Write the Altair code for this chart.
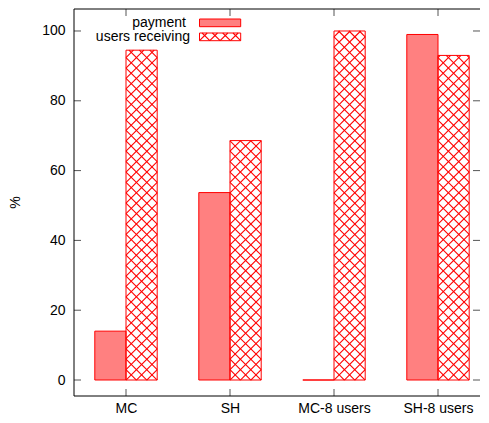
import json
import math
import altair as alt
import pandas as pd

# ---- data ----
categories = ["MC", "SH", "MC-8 users", "SH-8 users"]
payment = [14.0, 53.7, 0.0, 99.0]
users_receiving = [94.5, 68.6, 100.0, 93.0]
series_names = ["payment", "users receiving"]
y_ticks = [0, 20, 40, 60, 80, 100]

# ---- layout / style ----
W, H = 406, 387
SX_TARGET = 104.0
X_DOMAIN = [-0.5, -0.5 + W / SX_TARGET]
Y_DOMAIN = [-4.58, 106.3]
BAR_W = 0.3
SX = W / (X_DOMAIN[1] - X_DOMAIN[0])
SY = H / (Y_DOMAIN[1] - Y_DOMAIN[0])
RED = "#ff0000"
PINK = "#ff8080"
TICK = "#555555"
FONT = "Liberation Sans"
FS = 14
TICK_LEN = 7
HATCH_PERIOD = BAR_W * SX / 3


def px_to_x(px):
    return X_DOMAIN[0] + px / SX


def py_to_y(py):
    return Y_DOMAIN[1] - py / SY


def hatch(w, h, period):
    """45-degree crosshatch segments inside a w x h pixel box (y up)."""
    segs = []
    k0 = math.floor(-h / period) - 1
    k1 = math.ceil((w + h) / period) + 1
    for k in range(k0, k1 + 1):
        c = k * period
        a, b = max(0.0, c), min(w, h + c)
        if b - a > 1e-6:
            segs.append((a, a - c, b, b - c))
        a, b = max(0.0, c - h), min(w, c)
        if b - a > 1e-6:
            segs.append((a, c - a, b, c - b))
    return segs


pay_df = pd.DataFrame({
    "x0": [i - BAR_W for i in range(len(categories))],
    "x1": [float(i) for i in range(len(categories))],
    "y0": [0.0] * len(categories),
    "y1": payment,
})
usr_df = pd.DataFrame({
    "x0": [float(i) for i in range(len(categories))],
    "x1": [i + BAR_W for i in range(len(categories))],
    "y0": [0.0] * len(categories),
    "y1": users_receiving,
})

hrows = []
for i, v in enumerate(users_receiving):
    for (a, b, c, d) in hatch(BAR_W * SX, v * SY, HATCH_PERIOD):
        hrows.append({"x0": i + a / SX, "y0": b / SY, "x1": i + c / SX, "y1": d / SY})

# legend (pixel positions inside plot area, converted through the scales)
leg_text_px = [(112, 13.5), (116, 28.0)]
leg_box_px = [(125.5, 10.0, 166.7, 17.7), (125.5, 24.0, 166.7, 31.7)]
leg_text_df = pd.DataFrame({
    "label": series_names,
    "x": [px_to_x(p[0]) for p in leg_text_px],
    "y": [py_to_y(p[1]) for p in leg_text_px],
})
lb_pay = leg_box_px[0]
lb_usr = leg_box_px[1]
leg_pay_df = pd.DataFrame({"x0": [px_to_x(lb_pay[0])], "x1": [px_to_x(lb_pay[2])],
                           "y0": [py_to_y(lb_pay[3])], "y1": [py_to_y(lb_pay[1])]})
leg_usr_df = pd.DataFrame({"x0": [px_to_x(lb_usr[0])], "x1": [px_to_x(lb_usr[2])],
                           "y0": [py_to_y(lb_usr[3])], "y1": [py_to_y(lb_usr[1])]})
bw, bh = lb_usr[2] - lb_usr[0], lb_usr[3] - lb_usr[1]
for (a, b, c, d) in hatch(bw, bh, bw / 4):
    hrows.append({"x0": px_to_x(lb_usr[0] + a), "y0": py_to_y(lb_usr[3] - b),
                  "x1": px_to_x(lb_usr[0] + c), "y1": py_to_y(lb_usr[3] - d)})
hatch_df = pd.DataFrame(hrows)

# inward frame ticks
trows = []
for t in y_ticks:
    trows.append({"x0": X_DOMAIN[0], "x1": X_DOMAIN[0] + TICK_LEN / SX, "y0": t, "y1": t})
    trows.append({"x0": X_DOMAIN[1] - TICK_LEN / SX, "x1": X_DOMAIN[1], "y0": t, "y1": t})
for i in range(len(categories)):
    trows.append({"x0": i, "x1": i, "y0": Y_DOMAIN[0], "y1": Y_DOMAIN[0] + TICK_LEN / SY})
    trows.append({"x0": i, "x1": i, "y0": Y_DOMAIN[1] - TICK_LEN / SY, "y1": Y_DOMAIN[1]})
tick_df = pd.DataFrame(trows)

# frame: left, top, bottom (right edge lies beyond the picture in the reference)
frame_df = pd.DataFrame([
    {"x0": X_DOMAIN[0], "x1": X_DOMAIN[0], "y0": Y_DOMAIN[0], "y1": Y_DOMAIN[1]},
    {"x0": X_DOMAIN[0], "x1": X_DOMAIN[1], "y0": Y_DOMAIN[1], "y1": Y_DOMAIN[1]},
    {"x0": X_DOMAIN[0], "x1": X_DOMAIN[1], "y0": Y_DOMAIN[0], "y1": Y_DOMAIN[0]},
])

xscale = alt.Scale(domain=X_DOMAIN, nice=False, zero=False)
yscale = alt.Scale(domain=Y_DOMAIN, nice=False, zero=False)

label_expr = json.dumps(categories) + "[round(datum.value)]"
x_axis = alt.Axis(values=list(range(len(categories))), labelExpr=label_expr, title=None,
                  grid=False, domain=False, ticks=True, tickSize=0, labelPadding=5,
                  labelFontSize=FS, labelColor="#000", labelFont=FONT)
y_axis = alt.Axis(values=y_ticks, title="%", grid=False, domain=False, ticks=True,
                  tickSize=0, labelPadding=9, labelFontSize=FS, labelColor="#000",
                  labelFont=FONT, titleX=-59, titleY=193, titleAngle=270,
                  titleFontSize=FS, titleFontWeight="normal", titleFont=FONT,
                  titleColor="#000", titleAlign="center", titleBaseline="middle")


def enc(chart, xf="x0:Q", yf="y0:Q", two=True):
    e = dict(
        x=alt.X(xf, scale=xscale, axis=x_axis),
        y=alt.Y(yf, scale=yscale, axis=y_axis),
    )
    if two:
        e["x2"] = "x1:Q"
        e["y2"] = "y1:Q"
    return chart.encode(**e)


def rect_layer(df, fill):
    return enc(alt.Chart(df).mark_rect(fill=fill, stroke=RED, strokeWidth=1))


def rule_layer(df, color, width=1.0):
    return enc(alt.Chart(df).mark_rule(color=color, strokeWidth=width))


pay_layer = rect_layer(pay_df, PINK)
usr_layer = rect_layer(usr_df, "transparent")
hatch_layer = rule_layer(hatch_df, RED, 1.1)
tick_layer = rule_layer(tick_df, TICK, 1.0)
frame_layer = rule_layer(frame_df, "#000", 1.0)
leg_pay = rect_layer(leg_pay_df, PINK)
leg_usr = rect_layer(leg_usr_df, "transparent")
leg_text = enc(alt.Chart(leg_text_df).mark_text(
    align="right", baseline="middle", fontSize=FS, font=FONT, color="#000"
), xf="x:Q", yf="y:Q", two=False).encode(text="label:N")

chart = alt.layer(
    pay_layer, hatch_layer, usr_layer, tick_layer, frame_layer, leg_pay, leg_usr, leg_text
).properties(
    width=W, height=H,
    autosize=alt.AutoSizeParams(type="none"),
    padding={"left": 66, "top": 1, "right": 1, "bottom": 19},
).configure_view(stroke=None)

chart.save("out.html", embed_options={"renderer": "svg", "actions": False})
